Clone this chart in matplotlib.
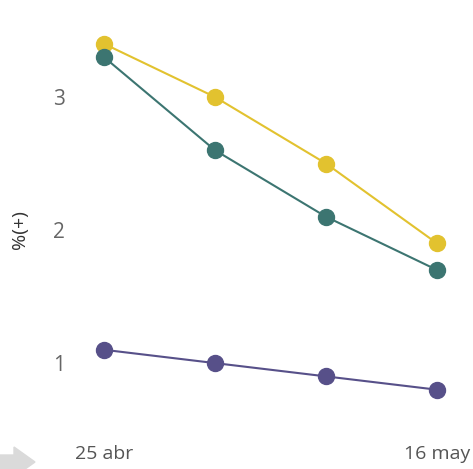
import matplotlib.pyplot as plt
from matplotlib.patches import Polygon

fechas = ['25 abr', '2 may', '9 may', '16 may']
etiquetas_x = ['25 abr', '', '', '16 may']
amarillo = [3.4, 3.0, 2.5, 1.9]
verde = [3.3, 2.6, 2.1, 1.7]
morado = [1.1, 1.0, 0.9, 0.8]

plt.rcParams['font.family'] = ['Open Sans', 'DejaVu Sans']

W, H = 473, 469
fig = plt.figure(figsize=(W / 100, H / 100), dpi=100)
ax = fig.add_axes([104 / W, 66 / H, 333 / W, 372.5 / H])

x = range(len(fechas))
for serie, color in [(amarillo, '#E2C22F'), (verde, '#3C7571'), (morado, '#575089')]:
    ax.plot(x, serie, color=color, lw=1.5, marker='o', ms=11.5, clip_on=False)

ax.set_xlim(0, 3)
ax.set_ylim(0.7, 3.5)
ax.set_yticks([1, 2, 3])
ax.set_xticks(list(x))
ax.set_xticklabels(etiquetas_x)
ax.tick_params(axis='y', length=0, pad=28, labelsize=15, labelcolor='#666666')
ax.tick_params(axis='x', length=0, pad=30, labelsize=14, labelcolor='#555555')
for s in ax.spines.values():
    s.set_visible(False)
ax.set_ylabel('%(+)', fontsize=14, color='#333333', va='center')
ax.yaxis.set_label_coords((20 - 104) / 333, (403 - 230) / 372.5)

# flecha gris abajo a la izquierda
pts = [[0, 455], [14, 455], [14, 447], [35, 462], [14, 477], [14, 469], [0, 469]]
fig.patches.append(Polygon([[px, H - py] for px, py in pts], closed=True,
                           transform=None, color='#DADADA'))

fig.savefig('out.png', dpi=100)
